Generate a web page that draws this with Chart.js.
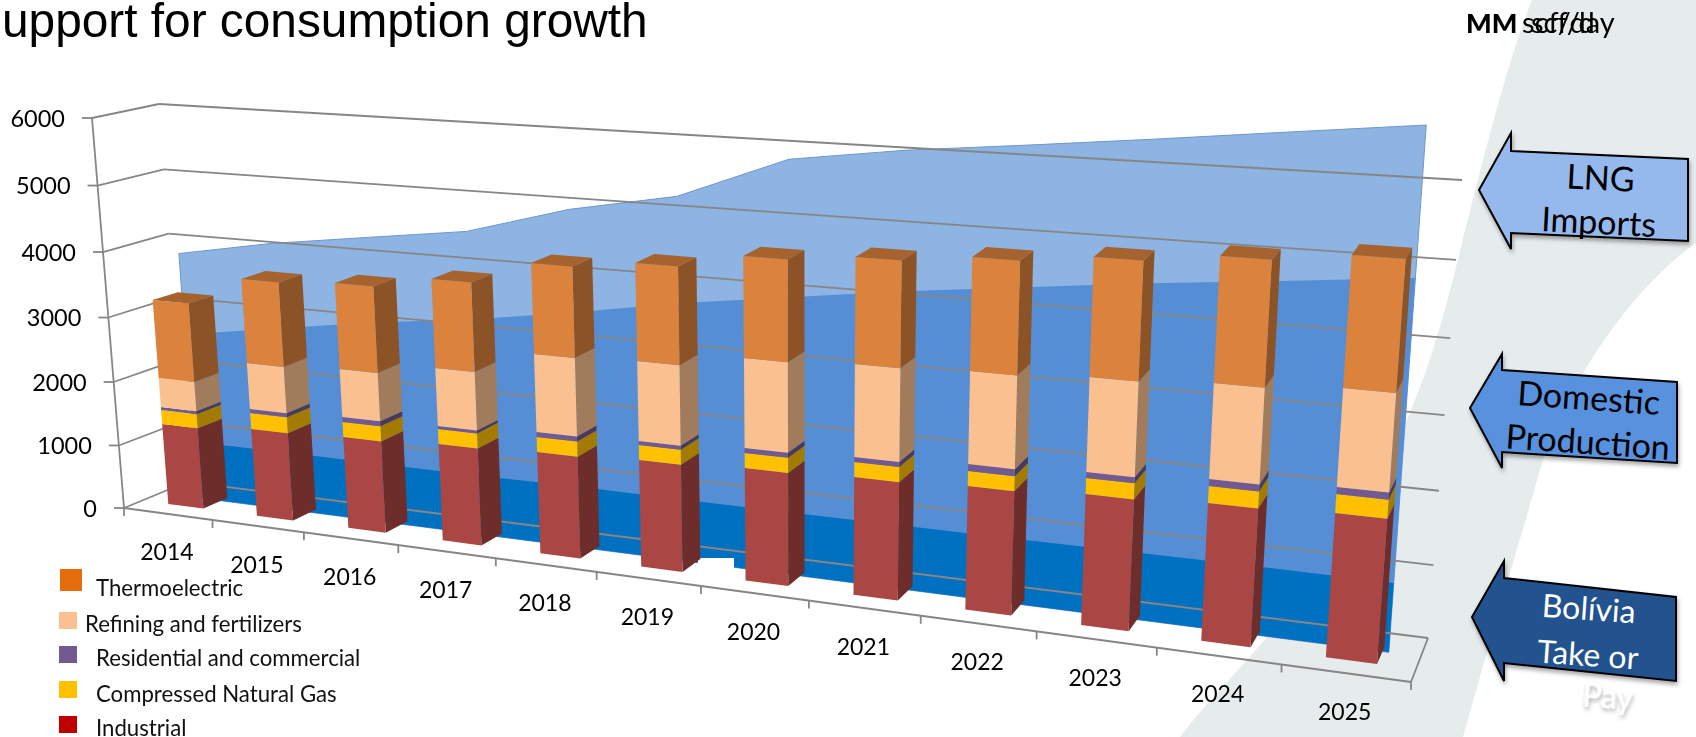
<!DOCTYPE html>
<html>
<head>
<meta charset="utf-8">
<title>Support for consumption growth</title>
<script src="https://cdn.jsdelivr.net/npm/chart.js@4"></script>
<style>
    html, body { margin: 0; padding: 0; background: #fff; width: 1696px; height: 737px; overflow: hidden; }
    #backdrop, #powerChart { position: absolute; left: 0; top: 0; }
    .title { position: absolute; left: 2px; top: -7px; font: 47.8px "Liberation Sans", Arial, sans-serif; color: #000; white-space: nowrap; }
    .unit { position: absolute; top: 4px; font: 29px Lato, sans-serif; color: #000; white-space: nowrap; }
    .unit b { font-weight: 900; font-size: 27px; }
    .legend-swatch { position: absolute; }
    .legend-text { position: absolute; font: 22.2px Lato, sans-serif; color: #111; white-space: nowrap; transform: translateY(-50%); }
    svg text { font-family: Lato, sans-serif; text-anchor: middle; }
</style>
</head>
<body>
<svg id="backdrop" width="1696" height="737" viewBox="0 0 1696 737">
    <defs>
        <filter id="soft" x="-10%" y="-10%" width="125%" height="125%">
            <feDropShadow dx="1" dy="3" stdDeviation="2" flood-color="#000" flood-opacity="0.35"/>
        </filter>
    </defs>
    <path fill="#e6ebeb" d="M1532 0 C1510 55 1490 130 1457 263 C1430 370 1400 480 1267 637 C1230 680 1200 710 1180 737 L1463 737 C1490 640 1520 540 1543 460 C1570 380 1630 290 1696 243 L1696 0 Z"/>
    <g filter="url(#soft)" stroke="#000" stroke-width="2" stroke-linejoin="miter">
        <polygon fill="#95b9ec" points="1479,190 1511,133 1511,151 1688,159 1688,241 1511,233 1511,249"/>
        <polygon fill="#5891de" points="1470,408 1502,354 1502,370 1677,382 1677,463 1502,452 1502,468"/>
        <polygon fill="#23538e" points="1472,617 1504,561 1504,578 1676,597 1676,681 1504,663 1504,681"/>
    </g>
    <g font-size="34" fill="#000">
        <text transform="translate(1600 190) rotate(3)">LNG</text>
        <text transform="translate(1598 234) rotate(3)">Imports</text>
        <text transform="translate(1588 410) rotate(4)">Domestic</text>
        <text transform="translate(1587 454) rotate(4)">Production</text>
    </g>
    <g font-size="32" fill="#fff">
        <text transform="translate(1588 620) rotate(4)">Bolívia</text>
        <text transform="translate(1587 666) rotate(4)">Take or</text>
        <text transform="translate(1607 708) rotate(4)" filter="url(#soft)">Pay</text>
    </g>
</svg>
<canvas id="powerChart" width="1696" height="737"></canvas>
<div class="title">upport for consumption growth</div>
<div class="unit" style="left:1466px"><b>MM</b></div>
<div class="unit" style="left:1522px">scf/day</div>
<div class="unit" style="left:1531px">scf/d</div>
<div id="legend"></div>

<script>
const years = ['2014', '2015', '2016', '2017', '2018', '2019', '2020', '2021', '2022', '2023', '2024', '2025'];

// demand columns (MMscf/day)
const industrial = [1280, 1368, 1411, 1474, 1526, 1582, 1642, 1691, 1746, 1819, 1882, 1937];
const compressedGas = [222, 249, 230, 227, 223, 219, 216, 212, 208, 218, 228, 250];
const residential = [47, 62, 77, 45, 74, 58, 72, 71, 97, 82, 94, 92];
const refining = [457, 711, 731, 868, 1145, 1156, 1277, 1297, 1274, 1278, 1267, 1282];
const thermoelectric = [1213, 1279, 1288, 1309, 1310, 1386, 1414, 1457, 1524, 1573, 1633, 1676];

// supply areas, stacked behind the columns
const boliviaTakeOrPay = [904, 912, 910, 906, 923, 917, 917, 924, 924, 938, 945, 940];
const domesticProduction = [1700, 1929, 2164, 2354, 2579, 2852, 3072, 3281, 3468, 3638, 3787, 3960];
const lngImports = [1258, 1295, 1271, 1290, 1478, 1502, 1891, 1892, 1866, 1851, 1874, 1882];

const legendLabels = ['Thermoelectric', 'Refining and fertilizers', 'Residential and commercial', 'Compressed Natural Gas', 'Industrial'];
const legendColors = ['#e46c0a', '#fac090', '#725a91', '#ffc000', '#c00000'];

// perspective box of the old 3D chart: corners of the front and back planes
const frontQuad = [[124, 508], [1411, 682], [1447, 207], [92, 118]];
const backQuad = [[187, 482], [1428, 638], [1462, 180], [159, 104]];
const BAR_DEPTH = [0.29, 0.68];
const AREA_DEPTH = 0.58;
const GRID = '#868686';

function planeAt(w) {
    const q = frontQuad.map((p, i) => [p[0] + (backQuad[i][0] - p[0]) * w, p[1] + (backQuad[i][1] - p[1]) * w]);
    const [[x0, y0], [x1, y1], [x2, y2], [x3, y3]] = q;
    const dx1 = x1 - x2, dx2 = x3 - x2, sx = x0 - x1 + x2 - x3;
    const dy1 = y1 - y2, dy2 = y3 - y2, sy = y0 - y1 + y2 - y3;
    const den = dx1 * dy2 - dx2 * dy1;
    const g = (sx * dy2 - dx2 * sy) / den;
    const h = (dx1 * sy - sx * dy1) / den;
    return { a: x1 - x0 + g * x1, b: x3 - x0 + h * x3, c: x0, d: y1 - y0 + g * y1, e: y3 - y0 + h * y3, f: y0, g, h };
}

function project(u, v, w) {
    const m = planeAt(w);
    const t = m.g * u + m.h * v + 1;
    return [(m.a * u + m.b * v + m.c) / t, (m.d * u + m.e * v + m.f) / t];
}

function shade(hex, k) {
    const n = parseInt(hex.slice(1), 16);
    return `rgb(${Math.round((n >> 16) * k)}, ${Math.round(((n >> 8) & 255) * k)}, ${Math.round((n & 255) * k)})`;
}

function poly(ctx, pts, fill) {
    ctx.beginPath();
    pts.forEach((p, i) => i ? ctx.lineTo(p[0], p[1]) : ctx.moveTo(p[0], p[1]));
    ctx.closePath();
    ctx.fillStyle = fill;
    ctx.fill();
}

function line(ctx, a, b, width) {
    ctx.beginPath();
    ctx.moveTo(a[0], a[1]);
    ctx.lineTo(b[0], b[1]);
    ctx.lineWidth = width || 1.8;
    ctx.strokeStyle = GRID;
    ctx.stroke();
}

// the stacked elements are laid out flat by Chart.js, this plugin folds them into the box
const perspectivePlugin = {
    id: 'perspective',
    beforeDatasetsDraw(chart) {
        const ctx = chart.ctx;
        const area = chart.chartArea;
        const toU = px => (px - area.left) / (area.right - area.left);
        const toV = px => (area.bottom - px) / (area.bottom - area.top);
        const n = years.length;

        // areas, back to front; they start and stop a bit off the category centres
        const areaU = px => (0.42 + (toU(px) * n - 0.5) * 1.03) / n;
        [2, 1, 0].forEach(idx => {
            const meta = chart.getDatasetMeta(idx);
            const pts = meta.data.map(el => project(areaU(el.x), toV(el.y), AREA_DEPTH));
            pts.push(project(areaU(meta.data[n - 1].x), 0, AREA_DEPTH));
            pts.push(project(areaU(meta.data[0].x), 0, AREA_DEPTH));
            poly(ctx, pts, chart.data.datasets[idx].backgroundColor);
            if (idx === 2) {
                ctx.strokeStyle = '#6f97c9';
                ctx.lineWidth = 1;
                ctx.stroke();
            }
        });
        // white gap in the blue strip of the original slide
        ctx.fillStyle = '#fff';
        ctx.fillRect(698, 558, 36, 11);

        // walls and gridlines
        const yScale = chart.scales.y;
        yScale.ticks.forEach(t => {
            const v = toV(yScale.getPixelForValue(t.value));
            const front = project(0, v, 0);
            const backL = project(0, v, 1);
            line(ctx, front, backL);
            line(ctx, backL, project(1, v, 1));
            line(ctx, front, [front[0] - 10, front[1]]);
            ctx.fillStyle = '#000';
            ctx.font = '23.5px Lato, sans-serif';
            ctx.textAlign = 'right';
            ctx.textBaseline = 'middle';
            ctx.fillText(t.label, front[0] - 27, front[1] + 1);
        });
        line(ctx, project(0, 0, 0), project(0, 1, 0));
        line(ctx, project(1, 0, 0), project(1, 0, 1));
        line(ctx, project(0, 0, 0), project(1, 0, 0), 2.2);

        // category axis
        const xScale = chart.scales.x;
        for (let i = 0; i <= n; i++) {
            const p = project(i / n, 0, 0);
            line(ctx, p, [p[0], p[1] + 8]);
        }
        xScale.ticks.forEach((t, i) => {
            const p = project(toU(xScale.getPixelForValue(i)), 0, 0);
            ctx.fillStyle = '#000';
            ctx.font = '23px Lato, sans-serif';
            ctx.textAlign = 'center';
            ctx.textBaseline = 'middle';
            ctx.fillText(t.label, p[0] - 1, p[1] + 39);
        });

        // columns, bottom segment first, left to right
        for (let i = 0; i < n; i++) {
            for (let idx = 3; idx < chart.data.datasets.length; idx++) {
                const el = chart.getDatasetMeta(idx).data[i];
                const color = chart.data.datasets[idx].backgroundColor;
                const uL = toU(el.x - el.width / 2), uR = toU(el.x + el.width / 2);
                const vB = toV(el.base), vT = toV(el.y);
                const [w0, w1] = BAR_DEPTH;
                poly(ctx, [project(uR, vB, w0), project(uR, vB, w1), project(uR, vT, w1), project(uR, vT, w0)], shade(color, 0.64));
                poly(ctx, [project(uL, vB, w0), project(uR, vB, w0), project(uR, vT, w0), project(uL, vT, w0)], color);
                if (idx === chart.data.datasets.length - 1) {
                    poly(ctx, [project(uL, vT, w0), project(uR, vT, w0), project(uR, vT, w1), project(uL, vT, w1)], shade(color, 0.76));
                }
            }
        }
        return false; // elements are already painted above
    }
};

function drawLegend() {
    const box = document.getElementById('legend');
    const swatches = [[60, 569, 22, 22], [59, 612, 18, 17], [59, 646, 18, 17], [59, 681, 18, 17], [59, 716, 18, 17]];
    const textLeft = [96, 85, 96, 96, 96];
    const textMiddle = [587, 623, 657, 693, 727];
    legendLabels.forEach((label, i) => {
        const s = document.createElement('div');
        s.className = 'legend-swatch';
        s.style.cssText = `left:${swatches[i][0]}px;top:${swatches[i][1]}px;width:${swatches[i][2]}px;height:${swatches[i][3]}px;background:${legendColors[i]}`;
        const t = document.createElement('div');
        t.className = 'legend-text';
        t.style.left = textLeft[i] + 'px';
        t.style.top = textMiddle[i] + 'px';
        t.textContent = label;
        box.appendChild(s);
        box.appendChild(t);
    });
}

function initChart() {
    const ctx = document.getElementById('powerChart').getContext('2d');
    const areaSet = (label, data, color) => ({ type: 'line', label, data, backgroundColor: color, stack: 'supply', pointRadius: 0, borderWidth: 0, fill: false });
    const barSet = (label, data, color) => ({ type: 'bar', label, data, backgroundColor: color, stack: 'demand', barPercentage: 0.4, categoryPercentage: 1 });
    new Chart(ctx, {
        data: {
            labels: years,
            datasets: [
                areaSet('Bolívia Take or Pay', boliviaTakeOrPay, '#0070c0'),
                areaSet('Domestic Production', domesticProduction, '#558ed5'),
                areaSet('LNG Imports', lngImports, '#8db4e3'),
                barSet('Industrial', industrial, '#aa4643'),
                barSet('Compressed Natural Gas', compressedGas, '#ffc000'),
                barSet('Residential and commercial', residential, '#725a91'),
                barSet('Refining and fertilizers', refining, '#fac090'),
                barSet('Thermoelectric', thermoelectric, '#db823d')
            ]
        },
        options: {
            responsive: false,
            animation: false,
            layout: { padding: 0 },
            plugins: { legend: { display: false }, tooltip: { enabled: false } },
            scales: {
                x: { stacked: true, grid: { display: false }, border: { display: false }, ticks: { display: false, autoSkip: false } },
                y: { stacked: true, min: 0, max: 6000, grid: { display: false }, border: { display: false }, ticks: { display: false, stepSize: 1000, callback: v => String(v) } }
            }
        },
        plugins: [perspectivePlugin]
    });
}

document.addEventListener('DOMContentLoaded', () => {
    drawLegend();
    initChart();
});
</script>
</body>
</html>
